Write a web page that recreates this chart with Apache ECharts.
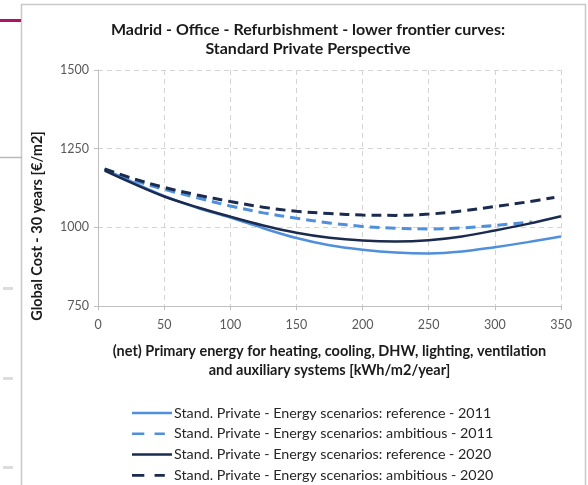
<!DOCTYPE html>
<html>
<head>
<meta charset="utf-8">
<script src="https://cdn.jsdelivr.net/npm/echarts@6/dist/echarts.min.js"></script>
<style>
  html, body { margin: 0; padding: 0; background: #fff; }
  #chart { width: 588px; height: 485px; }
</style>
</head>
<body>
<div id="chart"></div>
<script>
// Primary energy (kWh/m2/year) sample points along each frontier curve
const energy = [5, 25, 50, 75, 100, 125, 150, 175, 200, 225, 250, 275, 300, 325, 350];
const energyAmb2011 = [5, 25, 50, 75, 100, 125, 150, 175, 200, 225, 250, 275, 300, 328];
const energyAmb2020 = [5, 25, 50, 75, 100, 125, 150, 175, 200, 225, 250, 275, 300, 325, 345];

// Global cost - 30 years (€/m2)
const refCost2011 = [1185, 1146, 1100, 1062, 1031, 997, 966, 943, 929, 920, 917, 923, 937, 953, 971];
const ambCost2011 = [1184, 1152, 1121, 1094, 1068, 1046, 1029, 1014, 1003, 997, 995, 998, 1006, 1017];
const refCost2020 = [1180, 1142, 1098, 1064, 1034, 1006, 983, 967, 958, 955, 959, 971, 990, 1011, 1035];
const ambCost2020 = [1186, 1157, 1127, 1103, 1082, 1064, 1051, 1044, 1039, 1038, 1042, 1052, 1066, 1081, 1095];

const seriesNames = [
  'Stand. Private - Energy scenarios: reference - 2011',
  'Stand. Private - Energy scenarios: ambitious - 2011',
  'Stand. Private - Energy scenarios: reference - 2020',
  'Stand. Private - Energy scenarios: ambitious - 2020'
];
const yTicks = [750, 1000, 1250, 1500];

const lightBlue = '#4f8fdc';
const navy = '#1b2b4f';
const font = 'Lato, "Noto Sans", sans-serif';

// legend keys: a full stroke for solid curves, two dashes for dashed ones
const solidKey = 'path://M0,6H40V8.5H0Z';
const dashedKey = 'path://M1,6H13V8.5H1Z M23,6H33V8.5H23Z M40,6L40,8.5';

const zip = (xs, ys) => xs.map((x, i) => [x, ys[i]]);

const chart = echarts.init(document.getElementById('chart'), null, { renderer: 'canvas' });

function curve(name, xs, ys, color, dashed, width) {
  return {
    name: name,
    type: 'line',
    smooth: 0.35,
    showSymbol: false,
    symbol: 'none',
    data: zip(xs, ys),
    lineStyle: {
      color: color,
      width: width,
      type: dashed ? [10, 6] : 'solid'
    },
    itemStyle: { color: color },
    emphasis: { disabled: true }
  };
}

chart.setOption({
  animation: false,
  backgroundColor: '#ffffff',
  textStyle: { fontFamily: font },
  title: {
    text: 'Madrid - Office - Refurbishment - lower frontier curves:\nStandard Private Perspective',
    left: 303,
    textAlign: 'center',
    top: 15,
    textStyle: { fontFamily: font, fontSize: 16, fontWeight: 'bold', color: '#1a1a1a', lineHeight: 19 }
  },
  grid: { left: 98, right: 27, top: 70, bottom: 179, containLabel: false },
  xAxis: {
    type: 'value',
    min: 0, max: 350, interval: 50,
    name: '(net) Primary energy for heating, cooling, DHW, lighting, ventilation\nand auxiliary systems [kWh/m2/year]',
    nameLocation: 'middle',
    nameGap: 36,
    nameTextStyle: { fontFamily: font, fontSize: 14.5, fontWeight: 'bold', color: '#1a1a1a', lineHeight: 19 },
    axisLine: { show: true, lineStyle: { color: '#bfbfbf', width: 1 } },
    axisTick: { show: true, length: 4, lineStyle: { color: '#bfbfbf' } },
    axisLabel: { fontFamily: font, fontSize: 12.5, color: '#595959', margin: 12, formatter: v => String(v) },
    splitLine: { show: true, lineStyle: { color: '#d4d4d4', type: [5, 4], width: 1 } }
  },
  yAxis: {
    type: 'value',
    min: yTicks[0], max: yTicks[yTicks.length - 1], interval: 250,
    name: 'Global Cost - 30 years [€/m2]',
    nameLocation: 'middle',
    nameGap: 53,
    nameTextStyle: { fontFamily: font, fontSize: 14.5, fontWeight: 'bold', color: '#1a1a1a', padding: [0, 76, 0, 0] },
    axisLine: { show: true, lineStyle: { color: '#bfbfbf', width: 1 } },
    axisTick: { show: true, length: 4, lineStyle: { color: '#bfbfbf' } },
    axisLabel: { fontFamily: font, fontSize: 12.5, color: '#595959', margin: 9, formatter: v => String(v) },
    splitLine: { show: true, lineStyle: { color: '#d4d4d4', type: [5, 4], width: 1 } }
  },
  legend: {
    orient: 'vertical',
    left: 127,
    top: 401,
    height: 100,
    itemWidth: 40,
    itemHeight: 14,
    itemGap: 6.8,
    textStyle: { fontFamily: font, fontSize: 14.3, color: '#262626', padding: [0, 0, 0, -3] },
    data: [
      { name: seriesNames[0], icon: solidKey },
      { name: seriesNames[1], icon: dashedKey },
      { name: seriesNames[2], icon: solidKey },
      { name: seriesNames[3], icon: dashedKey }
    ]
  },
  series: [
    curve(seriesNames[0], energy, refCost2011, lightBlue, false, 2.5),
    curve(seriesNames[1], energyAmb2011, ambCost2011, lightBlue, true, 3),
    curve(seriesNames[2], energy, refCost2020, navy, false, 2.5),
    curve(seriesNames[3], energyAmb2020, ambCost2020, navy, true, 3)
  ],
  graphic: [
    // slide frame around the chart
    { type: 'rect', shape: { x: 21.5, y: 4.5, width: 564, height: 490 }, style: { fill: 'none', stroke: '#c8c8c8', lineWidth: 1.5 }, silent: true },
    { type: 'rect', shape: { x: 0, y: 19, width: 21, height: 3 }, style: { fill: '#b0145e' }, silent: true },
    { type: 'line', shape: { x1: 0, y1: 157.5, x2: 22, y2: 157.5 }, style: { stroke: '#b8b8b8', lineWidth: 1.5 }, silent: true },
    { type: 'rect', shape: { x: 3, y: 287, width: 10, height: 3 }, style: { fill: '#dcdcdc' }, silent: true },
    { type: 'rect', shape: { x: 3, y: 377, width: 10, height: 3 }, style: { fill: '#dcdcdc' }, silent: true },
    { type: 'rect', shape: { x: 3, y: 466, width: 10, height: 3 }, style: { fill: '#dcdcdc' }, silent: true }
  ]
});
</script>
</body>
</html>
